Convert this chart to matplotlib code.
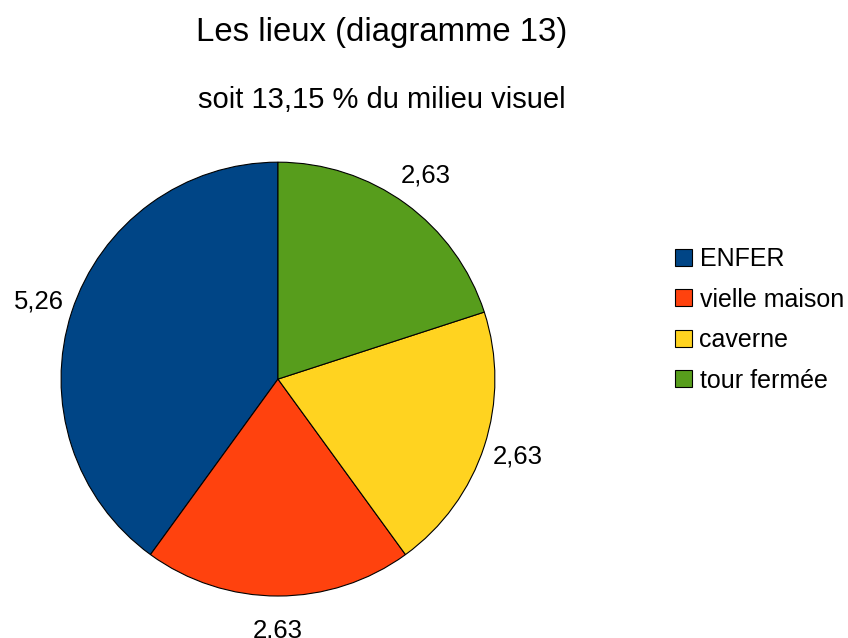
import matplotlib
matplotlib.use("Agg")
import matplotlib.pyplot as plt

plt.rcParams['font.family'] = ['Liberation Sans', 'DejaVu Sans']

categories = ["ENFER", "vielle maison", "caverne", "tour fermée"]
values = [5.26, 2.63, 2.63, 2.63]
value_labels = ["5,26", "2,63", "2,63", "2,63"]
colors = ["#004586", "#ff420e", "#ffd320", "#579d1c"]

fig = plt.figure(figsize=(8.48, 6.38), dpi=100)
ax = fig.add_axes([0.0719, 0.0658, 0.5118, 0.680])
wedges, texts = ax.pie(values, colors=colors, startangle=90, counterclock=True,
                       labels=value_labels, labeldistance=1.16,
                       wedgeprops=dict(edgecolor="black", linewidth=0.8),
                       textprops=dict(fontsize=18.5, color="black"))
for t in texts:
    t.set_ha("center")
    t.set_va("center")
ax.set_xlim(-1, 1)
ax.set_ylim(-1, 1)
ax.set_aspect("equal")

fig.text(0.4505, 1 - 33 / 638, "Les lieux (diagramme 13)", ha="center", va="center", fontsize=23.7)
fig.text(0.4505, 1 - 100 / 638, "soit 13,15 % du milieu visuel", ha="center", va="center", fontsize=21)

leg = fig.legend(wedges, categories, loc="upper left", bbox_to_anchor=(675 / 848, 1 - 247 / 638),
                 frameon=False, fontsize=18, handlelength=0.68, handleheight=0.68,
                 handletextpad=0.3, labelspacing=0.66, borderpad=0, borderaxespad=0)
for h in leg.legend_handles:
    h.set_edgecolor("black")
    h.set_linewidth(0.8)

fig.savefig("out.png", dpi=100)
